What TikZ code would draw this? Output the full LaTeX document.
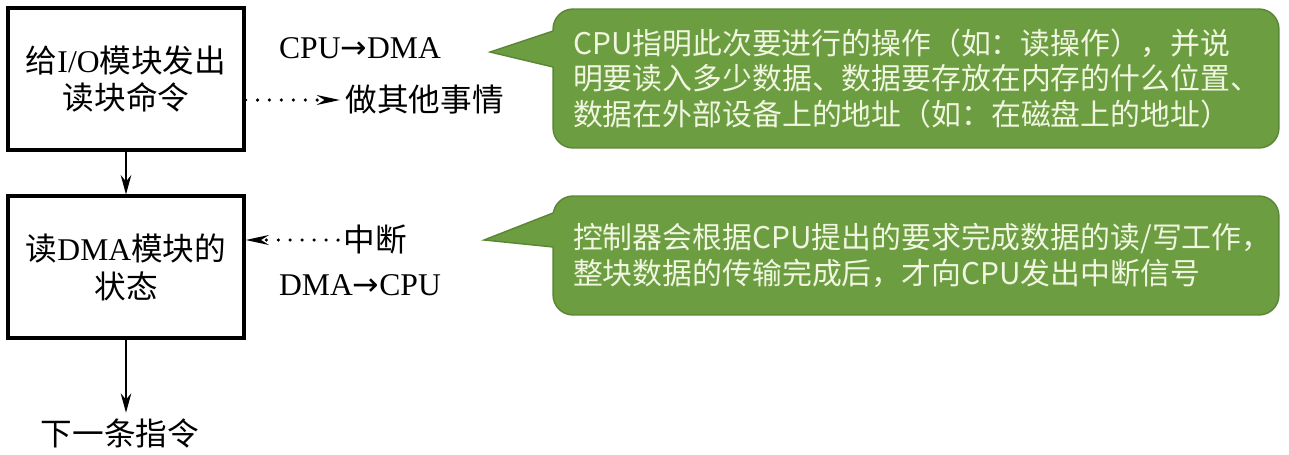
\documentclass[tikz,border=0pt]{standalone}
\usepackage{fontspec}
\setmainfont{Liberation Serif}
\newfontfamily\cjk{Noto Sans CJK SC}
\newfontfamily\symb{DejaVu Sans}
\usetikzlibrary{arrows.meta}
\definecolor{notegreen}{RGB}{108,157,64}
\definecolor{noteedge}{RGB}{90,134,52}
\definecolor{notetext}{RGB}{240,246,224}
\begin{document}
\begin{tikzpicture}[x=0.02cm,y=-0.02cm]
  \tikzstyle{block}=[draw,line width=1.8pt,minimum width=4.72cm,minimum height=2.84cm,align=center,font=\fontsize{18}{21.6}\selectfont]
  \tikzstyle{word}=[inner sep=3pt,font=\fontsize{18}{21.6}\selectfont]
  \tikzstyle{note}=[fill=notegreen,draw=noteedge,line width=0.8pt,rounded corners=0.4cm,minimum width=14.52cm,text width=13.72cm,inner xsep=0.4cm,align=left,text=notetext,font=\cjk\fontsize{17}{20.4}\selectfont]
  \tikzstyle{line}=[draw,line width=0.9pt,-{Stealth[length=11pt,width=6pt]}]
  \tikzstyle{dotline}=[draw,line width=2pt,line cap=round,dash pattern=on 0pt off 6.8pt,-{Stealth[length=13pt,width=5.5pt]}]
  \useasboundingbox (0,0) rectangle (1289,454);
  % left column
  \node[block] (issue) at (126,79) {{\cjk 给}I/O{\cjk 模块发出}\\{\cjk 读块命令}};
  \node[block] (status) at (126,267) {{\cjk 读}DMA{\cjk 模块的}\\{\cjk 状态}};
  \node[word] (next) at (120,433) {\cjk 下一条指令};
  \draw[line] (issue) -- (status);
  \draw[line] (status.south) -- (status.south |- next.north);
  % signals
  \node[word] (cpudma) at (360,48) {CPU{\symb →}DMA};
  \node[word,anchor=west] (other) at (340,100) {\cjk 做其他事情};
  \node[word,anchor=west] (intr) at (338,240) {\cjk 中断};
  \node[word] (dmacpu) at (360,285) {DMA{\symb →}CPU};
  \draw[dotline] (issue.east |- other.west) -- (other.west);
  \draw[dotline] (intr.west) -- (status.east |- intr.west);
  % notes
  \node[note,minimum height=2.78cm] (note1) at (916,78.5) {CPU指明此次要进行的操作（如：读操作），并说\\明要读入多少数据、数据要存放在内存的什么位置、\\数据在外部设备上的地址（如：在磁盘上的地址）};
  \node[note,minimum height=2.38cm] (note2) at (916,255.5) {控制器会根据CPU提出的要求完成数据的读/写工作，\\整块数据的传输完成后，才向CPU发出中断信号};
  \coordinate (tip1) at (490,52);
  \coordinate (tip2) at (484,240);
  \fill[notegreen] (tip1) -- (553,31) -- (557,31) -- (557,67) -- (553,67) -- cycle;
  \draw[noteedge,line width=0.8pt] (553,31) -- (tip1) -- (553,67);
  \fill[notegreen] (tip2) -- (553,213) -- (557,213) -- (557,247) -- (553,247) -- cycle;
  \draw[noteedge,line width=0.8pt] (553,213) -- (tip2) -- (553,247);
\end{tikzpicture}
\end{document}
